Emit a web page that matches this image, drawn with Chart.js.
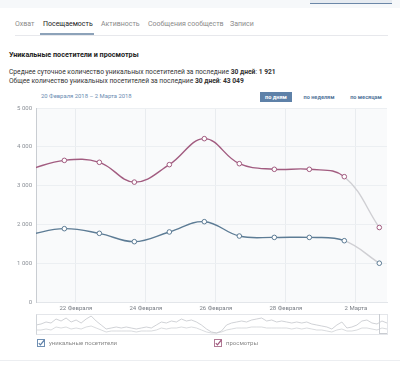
<!DOCTYPE html>
<html lang="ru">
<head>
<meta charset="utf-8">
<script src="https://cdn.jsdelivr.net/npm/chart.js"></script>
<style>
  html, body { margin: 0; padding: 0; background: #fff; }
  body { width: 400px; height: 366px; position: relative; overflow: hidden;
         font-family: Roboto, "Open Sans", sans-serif; color: #222; }
  .abs { position: absolute; white-space: nowrap; line-height: 1; }
  .topbar { left: 0; top: 0; width: 400px; height: 8px; background: #f6f8fa; }
  .topbtn { left: 310px; top: 0; width: 82px; height: 3px; background: #e6ebf1; border-bottom: 1px solid #6b87a8; }
  .tab { top: 21px; font-size: 7px; color: #8a8a8a; }
  .tab.on { color: #222; }
  .tabline { left: 15px; top: 35px; width: 373px; height: 1px; background: #e7e8ec; }
  .tabmark { left: 40px; top: 33px; width: 54px; height: 2px; background: #8da2b9; }
  h1 { margin: 0; font-size: 7.2px; font-weight: bold; left: 9px; top: 51px; }
  .info { left: 9px; font-size: 6.7px; color: #333; }
  .range { left: 41px; top: 94px; font-size: 5.9px; color: #6a8cb1; }
  .btn { top: 92px; height: 10px; font-size: 5.6px; font-weight: bold; line-height: 10px; text-align: center; color: #55779c; }
  .btn.on { background: #5e81a8; color: #fff; }
  #main { position: absolute; left: 0; top: 100px; }
  #nav { position: absolute; left: 36px; top: 314px; }
  .navbox { left: 36px; top: 314px; width: 350px; height: 19px; border: 1px solid #e4e6ea; border-left-color: #d0d4d9; }
  .navwin { left: 379px; top: 314px; width: 7px; height: 19px; border: 1px solid #c9ccd1; border-right: none; border-top: none; }
  .chk { top: 339px; width: 8px; height: 8px; }
  .leg { top: 340px; font-size: 6px; color: #888; }
  .foot { left: 0; top: 360px; width: 400px; height: 1px; background: #eceef1; }
</style>
</head>
<body>
<div class="abs topbar"></div>
<div class="abs topbtn"></div>

<div class="abs tab" style="left:15px">Охват</div>
<div class="abs tab on" style="left:43px">Посещаемость</div>
<div class="abs tab" style="left:101px">Активность</div>
<div class="abs tab" style="left:148px">Сообщения сообществ</div>
<div class="abs tab" style="left:230px">Записи</div>
<div class="abs tabline"></div>
<div class="abs tabmark"></div>

<h1 class="abs">Уникальные посетители и просмотры</h1>
<div class="abs info" style="top:69px">Среднее суточное количество уникальных посетителей за последние <b>30 дней</b>: <b>1 921</b></div>
<div class="abs info" style="top:78px">Общее количество уникальных посетителей за последние <b>30 дней</b>: <b>43 049</b></div>

<div class="abs range">20 Февраля 2018 – 2 Марта 2018</div>
<div class="abs btn on" style="left:260px;width:32px">по дням</div>
<div class="abs btn" style="left:298px;width:42px">по неделям</div>
<div class="abs btn" style="left:345px;width:42px">по месяцам</div>

<canvas id="main" width="400" height="220"></canvas>
<canvas id="nav" width="351" height="20"></canvas>
<div class="abs navbox"></div>
<div class="abs navwin"></div>

<svg class="abs chk" style="left:37px" viewBox="0 0 8 8"><rect x="0.5" y="0.5" width="7" height="7" fill="#fff" stroke="#6f8fb3"/><path d="M1.8 4.2 L3.4 5.8 L7.4 1" fill="none" stroke="#5e81a8" stroke-width="1.2"/></svg>
<div class="abs leg" style="left:49px">уникальные посетители</div>
<svg class="abs chk" style="left:214px" viewBox="0 0 8 8"><rect x="0.5" y="0.5" width="7" height="7" fill="#fff" stroke="#b07a95"/><path d="M1.8 4.2 L3.4 5.8 L7.4 1" fill="none" stroke="#a0577c" stroke-width="1.2"/></svg>
<div class="abs leg" style="left:226px">просмотры</div>
<div class="abs foot"></div>

<script>
// days counted from 22 Feb (tick "22 Февраля" = 0)
const pointDays = [-1.33, -0.33, 0.67, 1.67, 2.67, 3.67, 4.67, 5.67, 6.67, 7.67, 8.67];
const views =    [3420, 3650, 3600, 3090, 3540, 4210, 3565, 3420, 3420, 3230, 1920];
const visitors = [1740, 1890, 1770, 1555, 1805, 2070, 1700, 1665, 1665, 1580, 1000];
const tickDays = [0, 2, 4, 6, 8];
const tickLabels = ['22 Февраля', '24 Февраля', '26 Февраля', '28 Февраля', '2 Марта'];

// overview strip (hourly-ish values, read roughly)
const navViews = [126, 140, 168, 154, 210, 182, 224, 168, 196, 154, 210, 252, 182, 126, 70, 84, 98, 84, 98, 84,
  70, 84, 98, 84, 126, 168, 154, 182, 168, 210, 182, 196, 168, 126, 70, 28, 14, 42, 126, 154,
  168, 182, 168, 196, 210, 224, 182, 196, 168, 182, 168, 154, 168, 154, 168, 140, 126, 112, 98, 70,
  126, 168, 84, 98, 126, 182, 196, 154, 140, 182, 154];
const navVisitors = [56, 56, 70, 56, 98, 84, 98, 70, 84, 70, 98, 112, 84, 56, 28, 42, 42, 42, 42, 42,
  28, 42, 42, 42, 56, 84, 70, 84, 84, 98, 84, 98, 84, 56, 28, 14, 14, 28, 56, 70,
  84, 84, 84, 98, 98, 98, 84, 84, 84, 84, 84, 70, 84, 70, 84, 70, 56, 56, 42, 28,
  56, 70, 42, 42, 56, 84, 84, 70, 56, 84, 70];

const viewsColor = '#a25c80';
const visitorsColor = '#5d7c95';
const lastColor = '#cfcfd3';

function toPoints(values) {
  return values.map((v, i) => ({ x: pointDays[i], y: v }));
}

function lineSet(label, values, color) {
  const last = values.length - 1;
  return {
    label: label,
    data: toPoints(values),
    borderColor: color,
    borderWidth: 1.4,
    tension: 0.4,
    pointRadius: values.map((v, i) => i === 0 ? 0 : 2.3),
    pointBackgroundColor: '#fff',
    pointBorderColor: color,
    pointBorderWidth: 1,
    segment: {
      borderColor: ctx => ctx.p1DataIndex === last ? lastColor : color
    }
  };
}

const plotBg = {
  id: 'plotBg',
  beforeDraw(chart) {
    const a = chart.chartArea;
    const ctx = chart.ctx;
    ctx.save();
    ctx.fillStyle = '#f9fafb';
    ctx.fillRect(a.left, a.top, a.right - a.left, a.bottom - a.top);
    ctx.restore();
  }
};

new Chart(document.getElementById('main'), {
  type: 'line',
  data: {
    datasets: [
      lineSet('просмотры', views, viewsColor),
      lineSet('уникальные посетители', visitors, visitorsColor)
    ]
  },
  options: {
    responsive: false,
    animation: false,
    layout: { padding: { left: 0, right: 13, top: 8, bottom: 0 } },
    plugins: { legend: { display: false }, tooltip: { enabled: false } },
    scales: {
      x: {
        type: 'linear',
        min: -1.14,
        max: 8.89,
        afterBuildTicks: scale => { scale.ticks = tickDays.map(v => ({ value: v })); },
        afterFit: scale => { scale.height = 18; },
        ticks: {
          autoSkip: false,
          maxRotation: 0,
          padding: 3,
          color: '#7a7f86',
          font: { family: 'Roboto, sans-serif', size: 6 },
          callback: v => tickLabels[tickDays.indexOf(v)]
        },
        grid: { color: '#e9ecef', drawTicks: false },
        border: { color: '#e3e6ea' }
      },
      y: {
        min: 0,
        max: 5000,
        afterFit: scale => { scale.width = 36; },
        ticks: {
          stepSize: 1000,
          padding: 4,
          color: '#8a8f96',
          font: { family: 'Roboto, sans-serif', size: 6 },
          callback: v => String(v).replace(/\B(?=(\d{3})+(?!\d))/g, ' ')
        },
        grid: { color: '#eceff2', drawTicks: false },
        border: { color: '#c9cdd2' }
      }
    }
  },
  plugins: [plotBg]
});

new Chart(document.getElementById('nav'), {
  type: 'line',
  data: {
    labels: navViews.map((v, i) => i),
    datasets: [
      { data: navViews, borderColor: '#c4c7cc', borderWidth: 0.8, pointRadius: 0, tension: 0 },
      { data: navVisitors, borderColor: '#cfd2d6', borderWidth: 0.8, pointRadius: 0, tension: 0 }
    ]
  },
  options: {
    responsive: false,
    animation: false,
    layout: { padding: 0 },
    plugins: { legend: { display: false }, tooltip: { enabled: false } },
    scales: {
      x: { display: false },
      y: { display: false, min: 0, max: 280 }
    }
  }
});
</script>
</body>
</html>
